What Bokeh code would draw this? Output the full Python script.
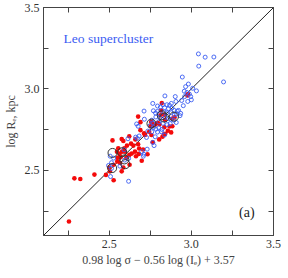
from bokeh.plotting import figure
from bokeh.models import LinearAxis, FixedTicker, Label, Range1d, PrintfTickFormatter
from bokeh.embed import file_html
from bokeh.resources import INLINE

# Red filled points
red_x = [2.255, 2.288, 2.324, 2.410, 2.480, 2.527, 2.504, 2.520, 2.527, 2.549, 2.551, 2.555, 2.563, 2.569,
         2.576, 2.586, 2.578, 2.592, 2.596, 2.608, 2.604, 2.586, 2.622, 2.624, 2.633, 2.647, 2.659, 2.676,
         2.680, 2.682, 2.690, 2.690, 2.698, 2.706, 2.712, 2.718, 2.733, 2.743, 2.757, 2.676, 2.765, 2.751,
         2.755, 2.763, 2.780, 2.796, 2.806, 2.812, 2.804, 2.824, 2.835, 2.839, 2.835, 2.820, 2.816, 2.833,
         2.841, 2.857, 2.867, 2.877, 2.884, 2.886, 2.898, 2.976, 2.980, 2.576, 2.500, 2.547, 2.567, 2.622,
         2.637, 2.657, 2.663]
red_y = [2.186, 2.451, 2.447, 2.474, 2.472, 2.439, 2.494, 2.684, 2.534, 2.555, 2.577, 2.636, 2.601, 2.581,
         2.692, 2.680, 2.615, 2.636, 2.615, 2.652, 2.577, 2.518, 2.709, 2.534, 2.664, 2.652, 2.690, 2.660,
         2.601, 2.634, 2.796, 2.747, 2.559, 2.628, 2.727, 2.717, 2.599, 2.737, 2.717, 2.830, 2.672, 2.771,
         2.798, 2.785, 2.781, 2.792, 2.783, 2.838, 2.690, 2.706, 2.765, 2.810, 2.842, 2.913, 2.868, 2.721,
         2.725, 2.743, 2.769, 2.733, 2.771, 2.818, 2.826, 2.960, 2.968, 2.494, 2.518, 2.615, 2.545, 2.595,
         2.603, 2.615, 2.587]

# Blue open points
blue_x = [3.043, 3.084, 3.137, 3.045, 2.945, 3.196, 2.982, 2.965, 3.008, 3.031, 2.957, 2.973, 2.988, 2.996,
          2.959, 2.978, 3.000, 2.902, 2.941, 2.951, 2.839, 2.906, 2.878, 2.867, 2.851, 2.827, 2.765, 2.794,
          2.812, 2.837, 2.861, 2.882, 2.896, 2.922, 2.914, 2.935, 2.910, 2.712, 2.769, 2.794, 2.782, 2.806,
          2.835, 2.851, 2.878, 2.896, 2.931, 2.784, 2.808, 2.841, 2.861, 2.876, 2.894, 2.908, 2.667, 2.714,
          2.759, 2.765, 2.802, 2.827, 2.853, 2.871, 2.676, 2.749, 2.769, 2.784, 2.802, 2.820, 2.794, 2.818,
          2.735, 2.759, 2.837, 2.780, 2.661, 2.671, 2.682, 2.614, 2.727, 2.765, 2.773, 2.731, 2.698, 2.710,
          2.708, 2.590, 2.618, 2.506, 2.527, 2.565, 2.496, 2.514, 2.508, 2.618, 2.594, 2.514]
blue_y = [3.215, 3.195, 3.196, 3.140, 3.073, 3.043, 3.030, 3.014, 3.004, 2.988, 2.986, 2.978, 2.968, 2.953,
          2.953, 2.923, 2.933, 2.953, 2.929, 2.897, 2.957, 2.923, 2.911, 2.899, 2.903, 2.903, 2.911, 2.895,
          2.889, 2.885, 2.879, 2.883, 2.868, 2.868, 2.864, 2.850, 2.846, 2.864, 2.866, 2.862, 2.852, 2.848,
          2.858, 2.854, 2.854, 2.842, 2.836, 2.828, 2.822, 2.826, 2.818, 2.814, 2.808, 2.794, 2.785, 2.814,
          2.808, 2.792, 2.798, 2.789, 2.781, 2.787, 2.771, 2.775, 2.763, 2.753, 2.761, 2.751, 2.735, 2.737,
          2.741, 2.737, 2.717, 2.706, 2.704, 2.696, 2.711, 2.694, 2.702, 2.672, 2.652, 2.630, 2.615, 2.599,
          2.587, 2.626, 2.573, 2.587, 2.575, 2.526, 2.530, 2.512, 2.462, 2.433, 2.563, 2.547]

# Highlighted (black open, larger) points
ring_x = [2.520, 2.578, 2.592, 2.598, 2.518, 2.757, 2.820, 2.835, 2.894]
ring_y = [2.607, 2.611, 2.567, 2.538, 2.514, 2.787, 2.838, 2.824, 2.830]

# One-to-one line
line_x = [2.1, 3.5]
line_y = [2.1, 3.5]

major_ticks = [2.5, 3.0, 3.5]
minor_ticks = [2.25, 2.75, 3.25]

SERIF = "Liberation Serif"
BLUE = "#3a5cf2"
RED = "#f40a0a"
AX = "#444444"

p = figure(frame_width=230, frame_height=228, output_backend="svg", toolbar_location=None,
           x_range=Range1d(2.1, 3.5), y_range=Range1d(2.1, 3.5),
           min_border_left=37, min_border_right=10, min_border_top=7, min_border_bottom=33,
           x_axis_location=None, y_axis_location=None)
p.grid.visible = False
p.outline_line_color = AX
p.outline_line_width = 1
p.background_fill_color = "white"
p.border_fill_color = "white"

def make_axis(show_labels):
    ax = LinearAxis(ticker=FixedTicker(ticks=major_ticks, minor_ticks=minor_ticks),
                    formatter=PrintfTickFormatter(format="%.1f"))
    ax.axis_line_color = AX
    ax.major_tick_line_color = AX
    ax.minor_tick_line_color = AX
    ax.major_tick_in = 5
    ax.major_tick_out = 0
    ax.minor_tick_in = 5
    ax.minor_tick_out = 0
    ax.major_label_text_font = SERIF
    ax.major_label_text_font_size = "12px"
    ax.major_label_text_color = "#333333"
    ax.major_label_standoff = 4
    if not show_labels:
        ax.major_label_text_alpha = 0
        ax.major_label_text_font_size = "1px"
        ax.major_label_standoff = 0
    return ax

xb = make_axis(True)
xb.axis_label = "0.98 log σ − 0.56 log (Iₑ) + 3.57"
xb.axis_label_text_font = SERIF
xb.axis_label_text_font_style = "normal"
xb.axis_label_text_font_size = "12px"
xb.axis_label_standoff = 2
p.add_layout(xb, "below")

yl = make_axis(True)
yl.axis_label = "log Rₑ, kpc"
yl.axis_label_text_font = SERIF
yl.axis_label_text_font_style = "normal"
yl.axis_label_text_font_size = "12px"
yl.axis_label_standoff = 4
p.add_layout(yl, "left")

p.add_layout(make_axis(False), "above")
p.add_layout(make_axis(False), "right")

p.line(line_x, line_y, line_color="#222222", line_width=1)

p.scatter(red_x, red_y, marker="circle", size=4.6, fill_color=RED, line_color=None)
p.scatter(blue_x, blue_y, marker="circle", size=4, fill_color=None, line_color=BLUE, line_width=0.9)
p.scatter(ring_x, ring_y, marker="circle", size=9, fill_color=None, line_color="#333333", line_width=1)

p.add_layout(Label(x=2.222, y=3.31, text="Leo supercluster", text_font=SERIF, text_font_size="13.5px",
                   text_color=BLUE, text_baseline="middle", text_align="left"))
p.add_layout(Label(x=3.29, y=2.241, text="(a)", text_font=SERIF, text_font_size="14px",
                   text_color="#222222", text_baseline="middle", text_align="left"))

open("out.html", "w").write(file_html(p, INLINE))
